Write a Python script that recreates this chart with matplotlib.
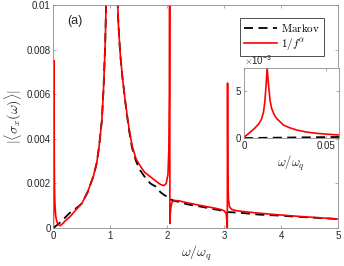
import numpy as np
import matplotlib
matplotlib.use("Agg")
import matplotlib.pyplot as plt

plt.rcParams["font.family"] = ["Liberation Sans", "DejaVu Sans"]
plt.rcParams["mathtext.fontset"] = "cm"

# 1/f^alpha curve (red)
omega_red = [0.0, 0.0004, 0.003, 0.0066, 0.009, 0.0107, 0.012, 0.0128, 0.0136, 0.0142,
             0.0150, 0.0160, 0.0169, 0.0185, 0.0200, 0.0241, 0.028, 0.0323, 0.038,
             0.0447, 0.052, 0.059, 0.07, 0.09, 0.12, 0.16, 0.2, 0.29, 0.41, 0.5,
             0.6, 0.7, 0.76, 0.80, 0.85, 0.88, 0.91, 0.93, 0.95, 0.98,
             1.0, 1.02, 1.05, 1.08, 1.11, 1.14, 1.17, 1.21, 1.26, 1.32, 1.38, 1.45,
             1.52, 1.60, 1.70, 1.80, 1.88, 1.94, 1.98, 2.01, 2.025, 2.035, 2.04,
             2.044, 2.05, 2.06, 2.08, 2.12, 2.2, 2.35, 2.5, 2.7, 2.85, 2.95, 3.0,
             3.03, 3.045, 3.05, 3.055, 3.06, 3.07, 3.09, 3.13, 3.2, 3.35, 3.54,
             3.8, 4.0, 4.3, 4.6, 5.0]
sigma_red = [0.0, 0.00014, 0.0005, 0.00105, 0.0015, 0.0020, 0.0028, 0.0039, 0.0058,
             0.0075, 0.0058, 0.0040, 0.0032, 0.0025, 0.0021, 0.0014, 0.0011, 0.00086,
             0.00065, 0.0005, 0.0004, 0.00032, 0.00024, 0.00015, 0.0001, 0.00018,
             0.0003, 0.0005, 0.00085, 0.0011, 0.0016, 0.0023, 0.0029, 0.0036, 0.0048,
             0.0062, 0.0083, 0.0105, 0.0140, 0.022, 0.035, 0.05, 0.03, 0.017,
             0.0115, 0.0092, 0.0079, 0.0068, 0.0057, 0.0046, 0.0037, 0.0031, 0.0028,
             0.0025, 0.0023, 0.0021, 0.00195, 0.0019, 0.0020, 0.0024, 0.0035, 0.0060,
             0.012, 0.0002, 0.0006, 0.0009, 0.00115, 0.00123, 0.00122, 0.00113,
             0.00105, 0.00095, 0.00088, 0.00082, 0.00076, 0.00065, 0.0003, 0.0,
             0.0065, 0.0025, 0.0013, 0.00095, 0.00083, 0.00078, 0.00073, 0.00068,
             0.00062, 0.00058, 0.00052, 0.00047, 0.0004]

# Markov curve (black dashed)
omega_mk = [0.0, 0.1, 0.2, 0.29, 0.44, 0.5, 0.6, 0.7, 0.76, 0.80, 0.85, 0.88,
            0.91, 0.93, 0.95, 0.98, 1.0, 1.02, 1.05, 1.08, 1.11, 1.14, 1.17, 1.21,
            1.26, 1.32, 1.38, 1.45, 1.52, 1.60, 1.70, 1.80, 1.88, 1.96, 2.03, 2.05,
            2.15, 2.37, 2.6, 2.8, 3.02, 3.06, 3.25, 3.6, 4.0, 4.5, 5.0]
sigma_mk = [0.0, 0.0002, 0.00045, 0.00068, 0.00096, 0.0011, 0.0016, 0.0023, 0.0029,
            0.0036, 0.0048, 0.0062, 0.0083, 0.0105, 0.0140, 0.022, 0.035,
            0.05, 0.03, 0.017, 0.0115, 0.0092, 0.0079, 0.0068, 0.0057, 0.0045,
            0.0036, 0.0030, 0.0026, 0.0023, 0.0020, 0.00185, 0.0016, 0.00145, 0.0014,
            0.00128, 0.0012, 0.00105, 0.00095, 0.00085, 0.00075, 0.00071, 0.00069,
            0.0006, 0.00055, 0.00047, 0.0004]

main_yticks = [0, 0.002, 0.004, 0.006, 0.008, 0.01]
main_yticklabels = ["0", "0.002", "0.004", "0.006", "0.008", "0.01"]
main_xticks = [0, 1, 2, 3, 4, 5]

spine_col = "#8c8c8c"
text_col = "#262626"


def style_axes(ax):
    for s in ax.spines.values():
        s.set_color(spine_col)
        s.set_linewidth(0.6)
    ax.tick_params(direction="in", top=True, right=True, length=2.5, width=0.5,
                   color=spine_col, labelcolor=text_col, labelsize=7, pad=2)


fig = plt.figure(figsize=(3.44, 2.66), dpi=100)
ax = fig.add_axes([0.155, 0.143, 0.829, 0.838])

ax.plot(omega_mk, sigma_mk, color="black", lw=1.3, dashes=(5, 3), label=r"$\mathrm{Markov}$")
ax.plot(omega_red, sigma_red, color="red", lw=1.2, label=r"$1/f^{\alpha}$")
ax.set_xlim(0, 5)
ax.set_ylim(0, 0.01)
ax.set_xticks(main_xticks)
ax.set_yticks(main_yticks)
ax.set_yticklabels(main_yticklabels)
style_axes(ax)
ax.set_xlabel(r"$\omega/\omega_q$", fontsize=10, labelpad=2, color=text_col)
ax.set_ylabel(r"$|\langle\sigma_x(\omega)\rangle|$", fontsize=10, labelpad=2, color=text_col)
ax.text(0.05, 0.955, "(a)", transform=ax.transAxes, fontsize=9, va="top", color=text_col)

leg = ax.legend(loc="upper right", fontsize=8, handlelength=3.0, handletextpad=0.4,
                borderpad=0.35, labelspacing=0.2, fancybox=False, framealpha=1,
                edgecolor="#333333", bbox_to_anchor=(0.97, 0.967))
leg.get_frame().set_linewidth(0.6)

# inset
axin = fig.add_axes([0.709, 0.481, 0.276, 0.263])
axin.plot(omega_mk, sigma_mk, color="black", lw=1.3, dashes=(5, 3))
axin.plot(omega_red, sigma_red, color="red", lw=1.2)
axin.set_xlim(0, 0.058)
axin.set_ylim(0, 0.0075)
axin.set_xticks([0, 0.05])
axin.set_xticklabels(["0", "0.05"])
axin.set_yticks([0, 0.005])
axin.set_yticklabels(["0", "5"])
style_axes(axin)
axin.set_xlabel(r"$\omega/\omega_q$", fontsize=9, labelpad=2, color=text_col)
axin.text(0.0, 1.02, r"$\times\mathregular{10^{-3}}$", transform=axin.transAxes,
          fontsize=7, va="bottom", ha="left", color=text_col)

fig.savefig("out.png", dpi=100)
